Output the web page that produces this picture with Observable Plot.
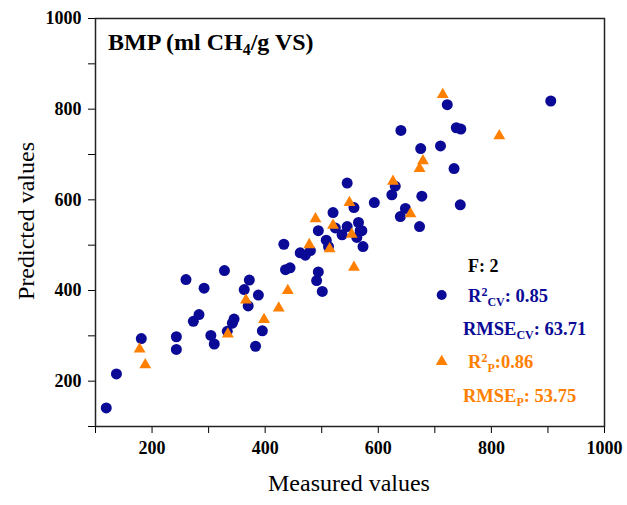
<!DOCTYPE html>
<html><head><meta charset="utf-8">
<script src="https://cdn.jsdelivr.net/npm/d3@7"></script>
<script src="https://cdn.jsdelivr.net/npm/@observablehq/plot@0.6"></script>
<style>
html,body{margin:0;padding:0;background:#fff;}
#chart svg{display:block;}
</style></head><body><div id="chart"></div>
<script>
// Calibration / cross-validation set (blue circles)
const cvMeasured  = [119,137,181,243,243,260,273,283,292,304,310,328,333,342,345,363,372,370,388,383,395,433,436,444,462,471,480,494,491,501,508,512,520,494,524,536,545,565,568,562,571,573,557,545,593,630,624,639,648,673,677,675,640,710,722,738,746,734,745,905];
const cvPredicted = [141,216,294,298,270,424,332,347,405,301,282,444,310,328,337,402,423,366,390,277,311,502,446,450,483,478,488,441,422,398,511,497,572,532,538,523,541,550,532,517,532,497,583,637,594,630,611,563,581,541,608,713,753,719,810,759,756,669,589,818];
// Prediction set (orange triangles)
const pMeasured  = [178,188,334,366,398,424,440,489,478,514,520,549,553,557,626,657,673,679,714,814];
const pPredicted = [271,236,304,379,336,361,400,558,501,492,544,594,524,451,641,569,669,686,832,741];

const xMajorTicks = [200,400,600,800,1000];
const xMinorTicks = [100,300,500,700,900];
const yMajorTicks = [200,400,600,800,1000];
const yMinorTicks = [100,300,500,700,900];

const titleText = "BMP (ml CH";
const fLabel = "F: 2";
const r2cv = "0.85", rmsecv = "63.71", r2p = "0.86", rmsep = "53.75";

const blue = "#0a0a96";
const orange = "#ff8000";
const serif = "'Liberation Serif','Times New Roman',serif";

const cv = cvMeasured.map((m, i) => ({measured: m, predicted: cvPredicted[i]}));
const pr = pMeasured.map((m, i) => ({measured: m, predicted: pPredicted[i]}));

const plot = Plot.plot({
  width: 627, height: 505,
  marginLeft: 95, marginRight: 23, marginTop: 18, marginBottom: 79,
  style: {fontFamily: serif, background: "#fff", color: "#000"},
  x: {domain: [100, 1000]},
  y: {domain: [100, 1000]},
  marks: [
    Plot.axisX({ticks: xMajorTicks, tickSize: 7, tickPadding: 8, fontSize: 18, fontWeight: "bold", label: null, tickFormat: d => String(d)}),
    Plot.axisX({ticks: xMinorTicks, tickSize: 7, tickFormat: () => "", label: null}),
    Plot.axisY({ticks: yMajorTicks, tickSize: 7, tickPadding: 7, fontSize: 18, fontWeight: "bold", label: null, tickFormat: d => String(d)}),
    Plot.axisY({ticks: yMinorTicks, tickSize: 7, tickFormat: () => "", label: null}),
    Plot.dot(cv, {x: "measured", y: "predicted", r: 5.5, fill: blue, symbol: "circle"}),
    Plot.dot(pr, {x: "measured", y: "predicted", r: 4.4, fill: orange, symbol: "triangle"}),
    Plot.frame({stroke: "#222", strokeWidth: 1.5})
  ]
});
document.getElementById("chart").appendChild(plot);

const svg = d3.select(plot);
function rich(x, y, parts, o) {
  const t = svg.append("text").attr("x", x).attr("y", y).attr("text-anchor", "start")
    .attr("font-family", serif).attr("font-weight", o.weight || "bold")
    .attr("font-size", o.size).attr("fill", o.fill);
  let shift = 0;
  for (const [s, kind] of parts) {
    const target = kind === "sup" ? -o.sup : kind === "sub" ? o.sub : 0;
    t.append("tspan").attr("dy", target - shift).attr("font-size", kind ? o.small : o.size).text(s);
    shift = target;
  }
}
// Title
rich(108, 50, [[titleText], ["4", "sub"], ["/g VS)"]], {size: 24, small: 16, sub: 5, sup: 0, fill: "#000"});
// Axis titles
svg.append("text").attr("x", 349).attr("y", 491).attr("text-anchor", "middle")
  .attr("font-family", serif).attr("font-size", 24).attr("fill", "#000").text("Measured values");
svg.append("text").attr("transform", "translate(34,221) rotate(-90)").attr("text-anchor", "middle")
  .attr("font-family", serif).attr("font-size", 24).attr("fill", "#000").text("Predicted values");
// Legend
rich(468, 272, [[fLabel]], {size: 18, small: 12, sub: 0, sup: 0, fill: "#000"});
svg.append("circle").attr("cx", 441.7).attr("cy", 295).attr("r", 5).attr("fill", blue);
rich(468, 302, [["R"], ["2", "sup"], ["CV", "sub"], [": " + r2cv]], {size: 18.5, small: 12, sub: 4, sup: 6, fill: blue});
rich(463, 335, [["RMSE"], ["CV", "sub"], [": " + rmsecv]], {size: 18.5, small: 12, sub: 4, sup: 6, fill: blue});
svg.append("path").attr("transform", "translate(441.7,361.5)")
  .attr("d", d3.symbol(d3.symbolTriangle, Math.PI * 4.4 * 4.4)()).attr("fill", orange);
rich(468, 368, [["R"], ["2", "sup"], ["P", "sub"], [":" + r2p]], {size: 18.5, small: 12, sub: 4, sup: 6, fill: orange});
rich(463, 402, [["RMSE"], ["P", "sub"], [": " + rmsep]], {size: 18.5, small: 12, sub: 4, sup: 6, fill: orange});
</script>
</body></html>
